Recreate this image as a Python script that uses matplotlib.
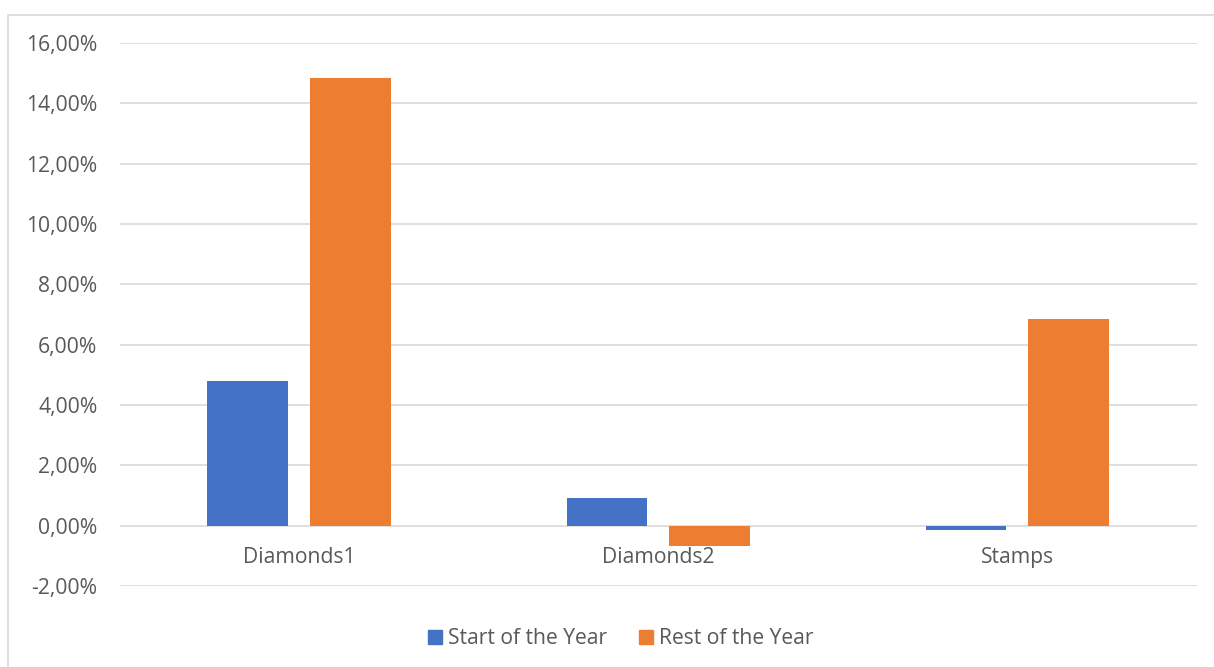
#!/usr/bin/env python

"""Bar chart of returns at the start and for the rest of the year."""

import matplotlib.pyplot as plt
import matplotlib.patches as mpatches
import matplotlib.transforms as mtransforms
from matplotlib.ticker import FuncFormatter
import numpy as np

categories = ['Diamonds1', 'Diamonds2', 'Stamps']
start_of_year = [4.81, 0.93, -0.13]
rest_of_year = [14.83, -0.66, 6.84]
series_names = ['Start of the Year', 'Rest of the Year']
y_ticks = [-2, 0, 2, 4, 6, 8, 10, 12, 14, 16]

BLUE = '#4472C4'
ORANGE = '#ED7D31'
GRID = '#D9D9D9'
TEXT = '#595959'
FONT_SIZE = 15.2


def pct(value, pos):
    return '{:.2f}%'.format(value).replace('.', ',')


def main():
    plt.rcParams['font.family'] = ['Open Sans', 'DejaVu Sans']
    fig = plt.figure(figsize=(12.14, 6.67), dpi=100)

    # outer chart border (runs off the right and bottom edges)
    fig.add_artist(mpatches.Rectangle((7.5 / 1214, -0.1), 1.2,
                                      1.1 - 14.5 / 667,
                                      transform=fig.transFigure,
                                      fill=False, edgecolor=GRID, lw=1.2))

    ax = fig.add_axes([119.6 / 1214, 1 - 586 / 667,
                       (1197 - 119.6) / 1214, (586 - 43) / 667])
    x = np.arange(len(categories))
    width = 0.225
    offset = 0.143
    ax.bar(x - offset, start_of_year, width, color=BLUE, zorder=3)
    ax.bar(x + offset, rest_of_year, width, color=ORANGE, zorder=3)

    ax.set_xlim(-0.5, len(categories) - 0.5)
    ax.set_ylim(-2, 16)
    ax.set_yticks(y_ticks)
    ax.yaxis.set_major_formatter(FuncFormatter(pct))
    ax.set_xticks([])
    ax.grid(axis='y', color=GRID, lw=1.2, zorder=0)
    for spine in ax.spines.values():
        spine.set_visible(False)
    ax.tick_params(axis='both', length=0, labelsize=FONT_SIZE, colors=TEXT)
    ax.tick_params(axis='y', pad=16)

    # category labels sit just under the zero line
    below_zero = mtransforms.offset_copy(ax.transData, fig=fig, y=-32, units='dots')
    for xi, name in zip(x, categories):
        ax.text(xi, 0, name, transform=below_zero, ha='center', va='center',
                fontsize=FONT_SIZE, color=TEXT)

    handles = [mpatches.Patch(color=BLUE, label=series_names[0]),
               mpatches.Patch(color=ORANGE, label=series_names[1])]
    fig.legend(handles=handles, loc='center', bbox_to_anchor=(621 / 1214, 1 - 639 / 667),
               ncol=2, frameon=False, fontsize=FONT_SIZE, labelcolor=TEXT,
               handlelength=0.65, handleheight=0.65, handletextpad=0.3,
               columnspacing=1.5)

    fig.savefig('out.png', dpi=100)


if __name__ == '__main__':
    main()
